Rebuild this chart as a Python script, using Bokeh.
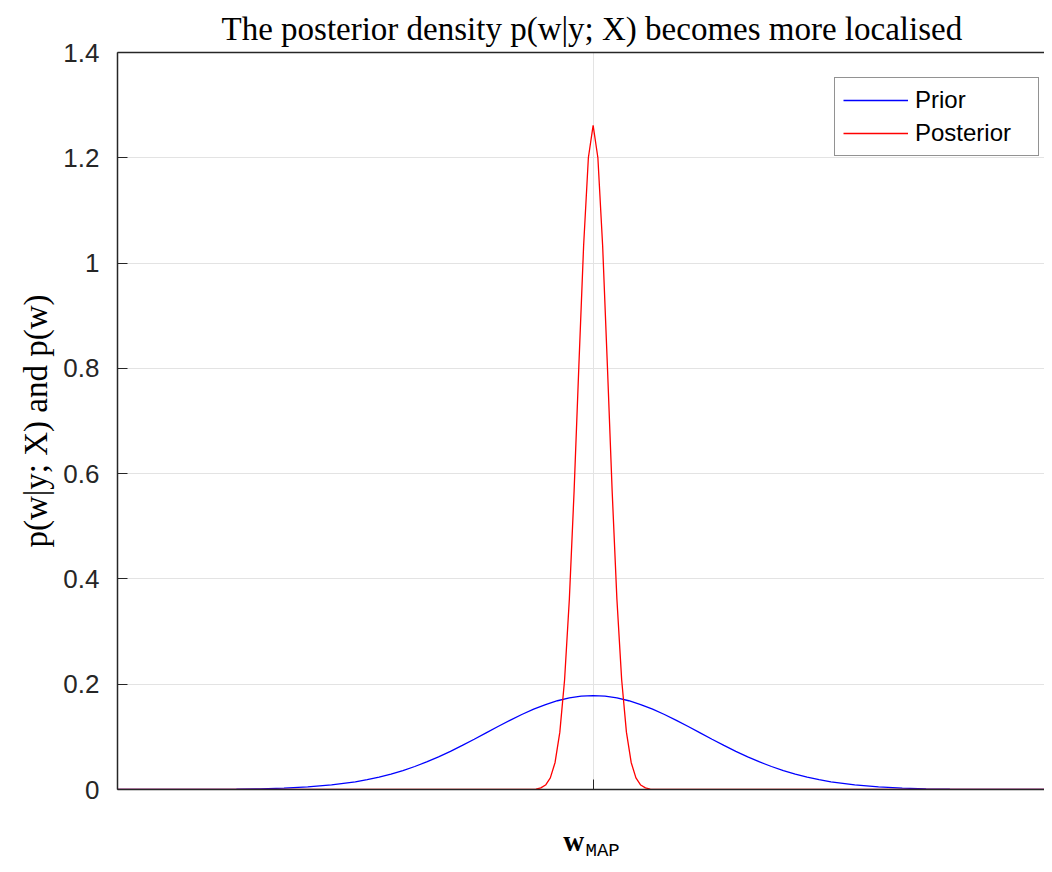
from bokeh.plotting import figure
from bokeh.models import Range1d, FixedTicker, LinearAxis, Legend, LegendItem
from bokeh.embed import file_html
from bokeh.resources import INLINE

# ---- data ----
prior_x = [-10, -9.5, -9, -8.5, -8, -7.5, -7, -6.5, -6, -5.5, -5, -4.75, -4.5, -4.25, -4,
           -3.75, -3.5, -3.25, -3, -2.75, -2.5, -2.25, -2, -1.75, -1.5, -1.25, -1, -0.75,
           -0.5, -0.25, 0, 0.25, 0.5, 0.75, 1, 1.25, 1.5, 1.75, 2, 2.25, 2.5, 2.75, 3,
           3.25, 3.5, 3.75, 4, 4.25, 4.5, 4.75, 5, 5.5, 6, 6.5, 7, 7.5, 8, 8.5, 9, 9.5, 10]
prior_y = [0.0000, 0.0000, 0.0001, 0.0001, 0.0003, 0.0006, 0.0013, 0.0026, 0.0049, 0.0087,
           0.0146, 0.0187, 0.0235, 0.0293, 0.0360, 0.0437, 0.0524, 0.0620, 0.0725, 0.0837,
           0.0955, 0.1075, 0.1196, 0.1313, 0.1425, 0.1526, 0.1614, 0.1686, 0.1740, 0.1773,
           0.1784,
           0.1773, 0.1740, 0.1686, 0.1614, 0.1526, 0.1425, 0.1313, 0.1196, 0.1075, 0.0955,
           0.0837, 0.0725, 0.0620, 0.0524, 0.0437, 0.0360, 0.0293, 0.0235, 0.0187, 0.0146,
           0.0087, 0.0049, 0.0026, 0.0013, 0.0006, 0.0003, 0.0001, 0.0001, 0.0000, 0.0000]

post_x = [-10, -1.5, -1.4, -1.3, -1.2, -1.1, -1.0, -0.9, -0.8, -0.7, -0.6, -0.5, -0.4, -0.3,
          -0.2, -0.1, 0, 0.1, 0.2, 0.3, 0.4, 0.5, 0.6, 0.7, 0.8, 0.9, 1.0, 1.1, 1.2, 1.3,
          1.4, 1.5, 10]
post_y = [0.0, 0.0, 0.0001, 0.0003, 0.0009, 0.0030, 0.0085, 0.0220, 0.0514, 0.1089, 0.2086,
          0.3615, 0.5669, 0.8044, 1.0329, 1.2001, 1.2616, 1.2001, 1.0329, 0.8044, 0.5669,
          0.3615, 0.2086, 0.1089, 0.0514, 0.0220, 0.0085, 0.0030, 0.0009, 0.0003, 0.0001,
          0.0, 0.0]

y_ticks = [0, 0.2, 0.4, 0.6, 0.8, 1, 1.2, 1.4]
y_tick_labels = ["0", "0.2", "0.4", "0.6", "0.8", "1", "1.2", "1.4"]
x_tick = [0]
series_names = ["Prior", "Posterior"]
title_text = "The posterior density p(w|y; X) becomes more localised"
ylabel_text = "p(w|y; X) and p(w)"
xlabel_main = "w"
xlabel_sub = "MAP"
xlabel_main_pos = -0.41
xlabel_sub_pos = 0.2

AX = "#262626"

p = figure(width=1044, height=864, output_backend="svg", toolbar_location=None,
           x_range=Range1d(-10, 9.49), y_range=Range1d(0, 1.4),
           min_border_left=117, min_border_right=0, min_border_top=52, min_border_bottom=75)
p.outline_line_color = None
p.background_fill_color = "white"
p.border_fill_color = "white"

r1 = p.line(prior_x, prior_y, line_color="#0000ff", line_width=1.3)
r2 = p.line(post_x, post_y, line_color="#ff0000", line_width=1.3)

# title
p.title.text = title_text
p.title.align = "left"
p.title.offset = 104
p.title.text_font = "Liberation Serif"
p.title.text_font_style = "normal"
p.title.text_font_size = "33px"
p.title.text_color = "black"
p.title.standoff = 11

# y axis
p.yaxis.ticker = FixedTicker(ticks=y_ticks)
p.yaxis.major_label_overrides = {t: l for t, l in zip(y_ticks, y_tick_labels)}
p.yaxis.major_label_text_font = "Liberation Sans"
p.yaxis.major_label_text_font_size = "26px"
p.yaxis.major_label_text_color = AX
p.yaxis.major_tick_in = 10
p.yaxis.major_tick_out = 0
p.yaxis.minor_tick_in = 0
p.yaxis.minor_tick_out = 0
p.yaxis.major_tick_line_color = AX
p.yaxis.axis_line_color = AX
p.yaxis.axis_line_width = 1.5
p.yaxis.major_label_standoff = 18
p.yaxis.axis_label = ylabel_text
p.yaxis.axis_label_text_font = "Liberation Serif"
p.yaxis.axis_label_text_font_style = "normal"
p.yaxis.axis_label_text_font_size = "33px"
p.yaxis.axis_label_text_color = "black"
p.yaxis.axis_label_standoff = 6

# x axis (single centre tick, no label)
p.xaxis.ticker = FixedTicker(ticks=x_tick)
p.xaxis.major_label_overrides = {0: " "}
p.xaxis.major_label_text_font_size = "1px"
p.xaxis.major_label_standoff = 0
p.xaxis.major_tick_in = 10
p.xaxis.major_tick_out = 0
p.xaxis.minor_tick_in = 0
p.xaxis.minor_tick_out = 0
p.xaxis.major_tick_line_color = AX
p.xaxis.axis_line_color = AX
p.xaxis.axis_line_width = 1.5

# x label "w" (bold serif) and subscript "MAP" (monospace)
ax_w = LinearAxis(ticker=FixedTicker(ticks=[xlabel_main_pos]),
                  major_label_overrides={xlabel_main_pos: xlabel_main},
                  major_label_text_font="Liberation Serif", major_label_text_font_style="bold",
                  major_label_text_font_size="29px", major_label_text_color="black",
                  major_label_standoff=31, axis_line_color=None, major_tick_line_color=None,
                  minor_tick_line_color=None, major_tick_in=0, major_tick_out=0,
                  minor_tick_in=0, minor_tick_out=0)
ax_sub = LinearAxis(ticker=FixedTicker(ticks=[xlabel_sub_pos]),
                    major_label_overrides={xlabel_sub_pos: xlabel_sub},
                    major_label_text_font="Liberation Mono",
                    major_label_text_font_size="19px", major_label_text_color="black",
                    major_label_standoff=-20, axis_line_color=None, major_tick_line_color=None,
                    minor_tick_line_color=None, major_tick_in=0, major_tick_out=0,
                    minor_tick_in=0, minor_tick_out=0)
p.add_layout(ax_w, "below")
p.add_layout(ax_sub, "below")

# top border
top = LinearAxis(ticker=FixedTicker(ticks=[]), major_tick_in=0, major_tick_out=0,
                 minor_tick_in=0, minor_tick_out=0, major_label_text_font_size="1px",
                 major_label_standoff=0, axis_line_color=AX, axis_line_width=1.5)
p.add_layout(top, "above")

# grids
p.xgrid.grid_line_color = "#e3e3e3"
p.ygrid.grid_line_color = "#e3e3e3"
p.xgrid.grid_line_width = 1
p.ygrid.grid_line_width = 1

legend = Legend(items=[LegendItem(label=series_names[0], renderers=[r1]),
                       LegendItem(label=series_names[1], renderers=[r2])],
                location=(717, 633))
legend.label_text_font = "Liberation Sans"
legend.label_text_font_size = "24px"
legend.label_text_color = "black"
legend.glyph_width = 65
legend.glyph_height = 26
legend.label_height = 26
legend.label_width = 115
legend.label_standoff = 7
legend.padding = 8
legend.spacing = 5
legend.border_line_color = AX
legend.border_line_width = 1
legend.background_fill_color = "white"
legend.background_fill_alpha = 1
p.add_layout(legend)

open("out.html", "w").write(file_html(p, INLINE))
